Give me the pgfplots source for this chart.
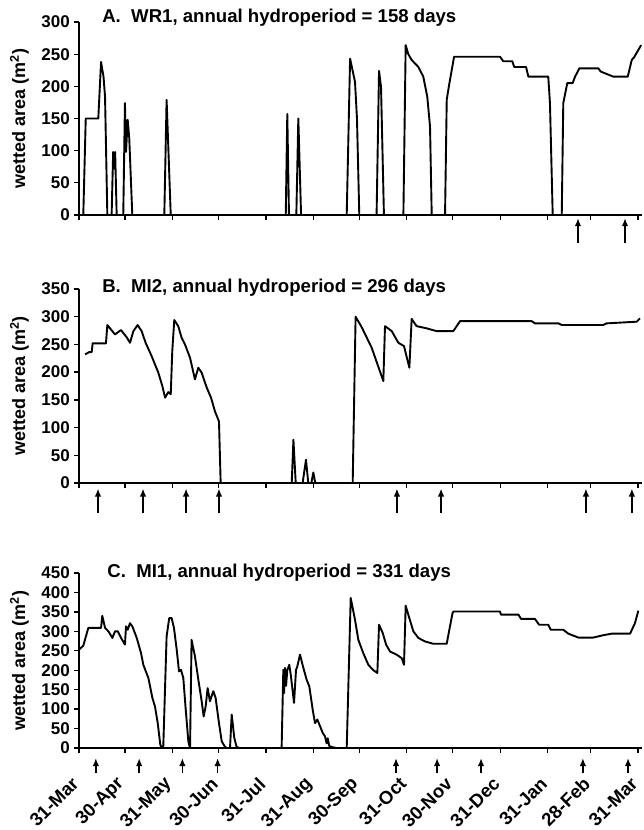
\documentclass[border=0pt]{standalone}
\usepackage{fontspec}
\setmainfont{Liberation Sans}
\usepackage{pgfplots}
\pgfplotsset{compat=1.18}
\usetikzlibrary{arrows.meta}

\tikzset{ttl/.style={anchor=base west, inner sep=0pt, font=\bfseries\fontsize{18.6}{21}\selectfont}}
\pgfplotsset{
  hp/.style={
    scale only axis, width=563pt, anchor=south west,
    xmin=0, xmax=367.6, ymin=0,
    axis lines=left, axis line style={-, line width=1.3pt},
    tick align=outside, major tick length=5pt,
    tick style={black, line width=1.3pt},
    xtick={0,30,61,91,122,153,183,214,244,275,306,334,365},
    xticklabels={},
    /pgf/number format/assume math mode=true,
    yticklabel style={font=\bfseries\fontsize{17}{20}\selectfont, inner sep=4pt},
    xticklabel style={font=\bfseries\fontsize{18.5}{21}\selectfont},
    ylabel={wetted area (m\textsuperscript{2})},
    ylabel style={font=\bfseries\fontsize{18}{21}\selectfont,
      at={(axis description cs:-0.0888,0.5)}, anchor=south, inner sep=0pt},
    clip=false,
  },
  ser/.style={black, line width=1.9pt, line join=round},
  arr/.style={black, line width=1.5pt, quiver={u=0,v=\thisrow{v}},
    -{Latex[length=8pt,width=6.5pt]}},
}

\begin{document}
\begin{tikzpicture}
% ---------------- Panel A ----------------
\begin{axis}[hp, at={(79pt,615pt)}, height=193pt, ymax=300, ytick={0,50,...,300}]
\addplot[ser] table {
x y
0 0
2.8 0
4.4 150
12.6 150
14.4 238
16 215
17 184
18.5 0
21.3 0
22.3 98
23 72
23.6 98
24.6 0
28.9 0
30 174
30.7 98
31.8 148
32.8 120
34.8 0
55.7 0
57.2 179
59.9 0
135 0
136 157
137.1 0
141.9 0
143.2 150
145 0
174.8 0
177 243
180.2 207
181.5 150
183 0
194.3 0
195.9 224
197.2 199
199.1 0
211.8 0
213.3 264
215 250
217.2 241
221.6 230
224.8 215
227.4 184
229.2 137
230.3 0
239 0
240.1 179
241.5 200
244.9 246
274.9 246
277 239
282.9 239
284.2 230
291.9 230
293.4 215
306.4 215
307.5 174
309.3 0
315.2 0
316.2 174
318.8 205
322.3 205
323.9 215
326.7 228
339.1 228
340.6 223
348.9 215
358.3 215
360.9 241
362.4 245
367 264
};
\addplot[arr] table {
x y v
325.8 -44 39
356.5 -44 39
};
\node[ttl] at (rel axis cs:0.041,1) [yshift=-1pt] {A.\ \ WR1, annual hydroperiod = 158 days};
\end{axis}

% ---------------- Panel B ----------------
\begin{axis}[hp, at={(79pt,347pt)}, height=194pt, ymax=350, ytick={0,50,...,350}]
\addplot[ser] table {
x y
4 232
6.5 236
8.3 236
8.9 252
17.6 252
18.5 285
23.5 268
27.4 276
31.1 263
33.3 253
35.5 274
38.3 285
40.9 274
43.5 253
47.4 229
51.8 199
54.4 175
56.2 154
58.3 164
59.9 160
60.9 238
62.2 294
64.8 283
67 262
69.2 250
72.5 226
75.7 187
77.9 208
80.1 199
83.4 172
86.2 154
88.8 129
91.4 111
92.5 0
138.9 0
140 78
141.5 0
146 0
148.2 42
149.7 0
151.7 0
153 19
154.3 0
178.7 0
180.6 300
184.6 281
191.1 244
198.7 184
199.8 283
204.2 274
208.5 253
212.2 247
215.7 208
217.2 296
220.4 283
227 279
233.5 274
244.4 274
248.8 292
295.6 292
297.7 288
313 288
315.2 285
342.3 285
344.5 288
364.1 291
366.3 297
};
\addplot[arr] table {
x y v
12.4 -54 44
41.8 -54 44
69.9 -54 44
91.4 -54 44
207.6 -54 44
236.4 -54 44
331 -54 44
361 -54 44
};
\node[ttl] at (rel axis cs:0.041,1) [yshift=-4pt] {B.\ \ MI2, annual hydroperiod = 296 days};
\end{axis}

% ---------------- Panel C ----------------
\begin{axis}[hp, at={(79pt,82pt)}, height=175pt, ymax=450, ytick={0,50,...,450},
  xticklabels={31-Mar,30-Apr,31-May,30-Jun,31-Jul,31-Aug,30-Sep,31-Oct,30-Nov,31-Dec,31-Jan,28-Feb,31-Mar},
  xticklabel style={yshift=-27pt, xshift=-3pt, rotate=45, anchor=east, inner sep=1pt}]
\addplot[ser] table {
x y
0 253
2.8 263
6.1 309
14.4 309
15.2 340
17 309
19.2 300
21.8 283
23.5 300
25.3 300
27.9 280
30 266
30.7 313
31.8 304
33.3 321
34.8 313
37.7 283
40.5 244
42 214
45.3 180
47.9 129
49.6 107
51.4 64
53.1 8
54.4 0
55 0
57.2 287
58.9 334
60.5 334
62 309
63.8 253
65.3 197
66.6 201
68.1 180
69.7 98
71.4 17
72.5 0
73.5 278
75.7 236
77.9 176
80.1 120
81.4 81
82.7 107
84 154
85.5 120
87.7 146
89.2 129
91.4 64
93.2 17
95.3 3
96.4 0
98.6 0
99.7 86
101.4 26
102.9 3
104.7 0
132.3 0
133.4 201
133.9 141
134.5 206
135.2 160
136 200
137.3 214
138.4 184
140.4 116
141.7 201
142.5 209
144.3 240
146.5 206
148.6 176
150.4 158
152.6 98
154.1 64
155.6 73
157.4 56
159.1 39
160.6 30
161.7 12
162.4 25
163.4 5
165.6 2
168.2 0
174.8 0
177.4 386
180.2 330
182.4 278
185.6 244
188.9 214
192.2 200
194.8 193
195.9 317
198.3 296
200.5 266
203.1 248
207.4 240
210.7 231
212.2 214
213.3 366
215 343
218.3 300
221.6 283
225.9 274
231.3 268
240.1 268
241.8 304
243.9 347
244.5 351
274.9 351
275.5 343
286.9 343
288.6 332
297.7 332
300.4 317
306.4 317
308 304
316.2 304
319.5 294
326 284
335.8 284
342.3 290
347.8 294
359.8 294
363 321
365.2 353
};
\addplot[arr] table {
x y v
11 -64 38
39.3 -64 38
67.5 -64 38
90.5 -64 38
207 -64 38
233.8 -64 38
262.5 -64 38
329 -64 38
358.5 -64 38
};
\node[ttl] at (rel axis cs:0.05,1) [yshift=-5pt] {C.\ \ MI1, annual hydroperiod = 331 days};
\end{axis}
\pgfresetboundingbox
\useasboundingbox (0,0) rectangle (643pt,830pt);
\end{tikzpicture}
\end{document}
